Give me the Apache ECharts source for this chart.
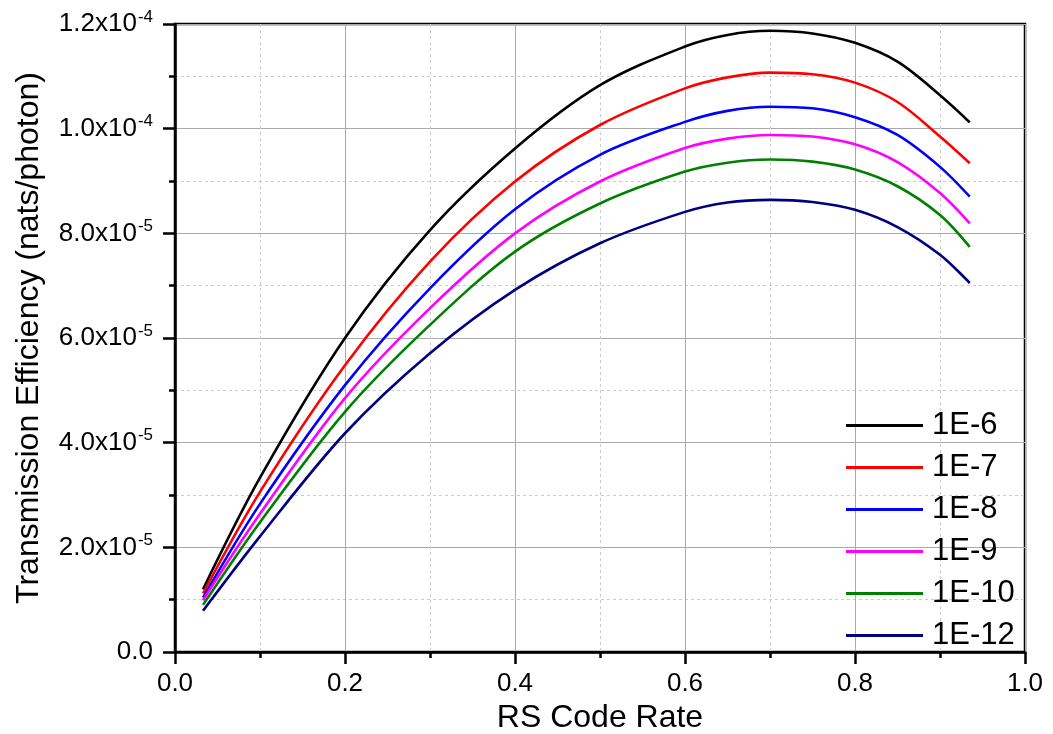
<!DOCTYPE html>
<html>
<head>
<meta charset="utf-8">
<script src="https://cdn.jsdelivr.net/npm/echarts@6/dist/echarts.min.js"></script>
<style>html,body{margin:0;padding:0;background:#fff}#c{width:1053px;height:734px}</style>
</head>
<body>
<div id="c"></div>
<script>
// RS code rate (x values)
const codeRate = [0.033, 0.1, 0.2, 0.3, 0.4, 0.5, 0.6, 0.65, 0.7, 0.75, 0.8, 0.85, 0.9, 0.935];
// Transmission efficiency in units of 1e-5 nats/photon
const eff_1E6  = [1.20, 3.33, 6.00, 8.06, 9.62, 10.83, 11.57, 11.79, 11.87, 11.82, 11.64, 11.28, 10.64, 10.12];
const eff_1E7  = [1.12, 3.06, 5.48, 7.46, 8.99, 10.07, 10.77, 10.98, 11.07, 11.04, 10.88, 10.51, 9.85, 9.34];
const eff_1E8  = [1.04, 2.83, 5.10, 6.95, 8.46, 9.50, 10.13, 10.34, 10.42, 10.39, 10.22, 9.88, 9.27, 8.70];
const eff_1E9  = [0.99, 2.64, 4.85, 6.57, 8.00, 8.99, 9.63, 9.81, 9.88, 9.85, 9.70, 9.36, 8.77, 8.19];
const eff_1E10 = [0.90, 2.48, 4.59, 6.25, 7.65, 8.57, 9.18, 9.35, 9.41, 9.37, 9.22, 8.90, 8.35, 7.74];
const eff_1E12 = [0.79, 2.21, 4.18, 5.71, 6.92, 7.81, 8.41, 8.59, 8.64, 8.60, 8.45, 8.12, 7.59, 7.05];
const seriesNames = ['1E-6', '1E-7', '1E-8', '1E-9', '1E-10', '1E-12'];
const seriesColors = ['#000000', '#ff0000', '#0000ff', '#ff00ff', '#008000', '#000080'];
const xTickLabels = ['0.0', '0.2', '0.4', '0.6', '0.8', '1.0'];
const yTickMantissa = ['0.0', '2.0', '4.0', '6.0', '8.0', '1.0', '1.2'];
const yTickExponent = ['', '-5', '-5', '-5', '-5', '-4', '-4'];

const allData = [eff_1E6, eff_1E7, eff_1E8, eff_1E9, eff_1E10, eff_1E12];

const chart = echarts.init(document.getElementById('c'));
const font = 'Liberation Sans, Arial, sans-serif';
chart.setOption({
  animation: false,
  backgroundColor: '#fff',
  grid: { left: 175, right: 28, top: 24, bottom: 82, outerBoundsMode: 'none', containLabel: false,
          show: true, borderColor: '#000', borderWidth: 2.5, backgroundColor: 'transparent' },
  legend: {
    orient: 'vertical', left: 841, top: 405,
    icon: 'rect', itemWidth: 77, itemHeight: 3, itemGap: 11,
    textStyle: { fontFamily: font, fontSize: 31, color: '#000', lineHeight: 31, padding: [0, 0, 0, 4] },
    data: seriesNames
  },
  xAxis: {
    type: 'value', min: 0, max: 1, interval: 0.2,
    name: 'RS Code Rate', nameLocation: 'middle', nameGap: 48,
    nameTextStyle: { fontFamily: font, fontSize: 32, color: '#000' },
    axisLine: { onZero: false, lineStyle: { color: '#000', width: 2.5 } },
    axisTick: { show: true, inside: false, length: 12, lineStyle: { color: '#000', width: 2.5 } },
    minorTick: { show: true, splitNumber: 2, length: 6, lineStyle: { color: '#000', width: 2.5 } },
    axisLabel: { fontFamily: font, fontSize: 26, color: '#000', margin: 19,
      formatter: (v) => xTickLabels[Math.round(v / 0.2)] },
    splitLine: { show: true, lineStyle: { color: '#aaaaaa', width: 1 } },
    minorSplitLine: { show: true, lineStyle: { color: '#cccccc', width: 1, type: [3, 3] } }
  },
  yAxis: {
    type: 'value', min: 0, max: 12, interval: 2,
    name: 'Transmission Efficiency (nats/photon)', nameLocation: 'middle', nameGap: 130,
    nameTextStyle: { fontFamily: font, fontSize: 32, color: '#000' },
    axisLine: { onZero: false, lineStyle: { color: '#000', width: 2.5 } },
    axisTick: { show: true, inside: false, length: 12, lineStyle: { color: '#000', width: 2.5 } },
    minorTick: { show: true, splitNumber: 2, length: 6, lineStyle: { color: '#000', width: 2.5 } },
    axisLabel: {
      fontFamily: font, fontSize: 26, color: '#000', margin: 22,
      formatter: (v) => {
        const i = Math.round(v / 2);
        if (!yTickExponent[i]) return '{m|' + yTickMantissa[i] + '}';
        return '{m|' + yTickMantissa[i] + 'x10}{e|' + yTickExponent[i] + '}';
      },
      rich: {
        m: { fontFamily: font, fontSize: 26, color: '#000' },
        e: { fontFamily: font, fontSize: 17, color: '#000', verticalAlign: 'bottom', padding: [0, 0, 14, 1] }
      }
    },
    splitLine: { show: true, lineStyle: { color: '#aaaaaa', width: 1 } },
    minorSplitLine: { show: true, lineStyle: { color: '#cccccc', width: 1, type: [3, 3] } }
  },
  series: seriesNames.map((n, k) => ({
    name: n, type: 'line', smooth: 0.33, showSymbol: false, symbol: 'none',
    lineStyle: { color: seriesColors[k], width: 2.6 },
    itemStyle: { color: seriesColors[k] },
    data: codeRate.map((x, i) => [x, allData[k][i]])
  }))
});
</script>
</body>
</html>
